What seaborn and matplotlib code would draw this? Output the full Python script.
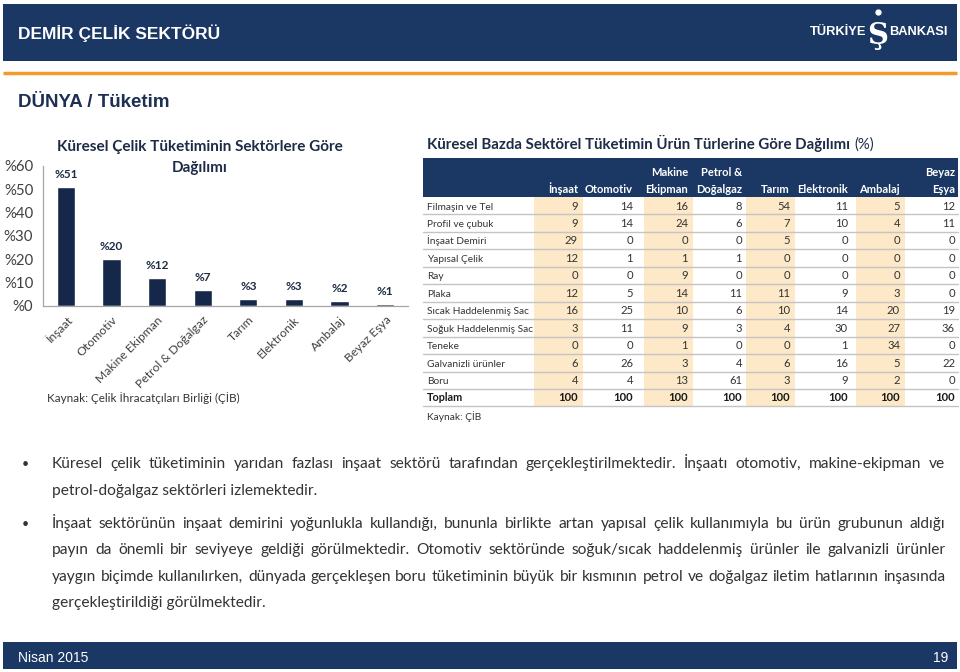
import matplotlib
matplotlib.use("Agg")
import matplotlib.pyplot as plt
from matplotlib import font_manager
from matplotlib.patches import Rectangle
from matplotlib.ticker import FuncFormatter, FixedLocator
import seaborn as sns

# ---------------- data ----------------
sectors = ["İnşaat", "Otomotiv", "Makine Ekipman", "Petrol & Doğalgaz",
           "Tarım", "Elektronik", "Ambalaj", "Beyaz Eşya"]
shares = [51, 20, 12, 7, 3, 3, 2, 1]
y_ticks = [0, 10, 20, 30, 40, 50, 60]

products = ["Filmaşin ve Tel", "Profil ve çubuk", "İnşaat Demiri", "Yapısal Çelik",
            "Ray", "Plaka", "Sıcak Haddelenmiş Sac", "Soğuk Haddelenmiş Sac",
            "Teneke", "Galvanizli ürünler", "Boru"]
col_top = ["", "", "Makine", "Petrol &", "", "", "", "Beyaz"]
col_bottom = ["İnşaat", "Otomotiv", "Ekipman", "Doğalgaz", "Tarım",
              "Elektronik", "Ambalaj", "Eşya"]
val_insaat = [9, 9, 29, 12, 0, 12, 16, 3, 0, 6, 4]
val_otomotiv = [14, 14, 0, 1, 0, 5, 25, 11, 0, 26, 4]
val_makine = [16, 24, 0, 1, 9, 14, 10, 9, 1, 3, 13]
val_petrol = [8, 6, 0, 1, 0, 11, 6, 3, 0, 4, 61]
val_tarim = [54, 7, 5, 0, 0, 11, 10, 4, 0, 6, 3]
val_elektronik = [11, 10, 0, 0, 0, 9, 14, 30, 1, 16, 9]
val_ambalaj = [5, 4, 0, 0, 0, 3, 20, 27, 34, 5, 2]
val_beyaz = [12, 11, 0, 0, 0, 0, 19, 36, 0, 22, 0]
totals = [100, 100, 100, 100, 100, 100, 100, 100]
table_cols = [val_insaat, val_otomotiv, val_makine, val_petrol,
              val_tarim, val_elektronik, val_ambalaj, val_beyaz]
shaded_cols = [0, 2, 4, 6]

para1 = ["Küresel çelik tüketiminin yarıdan fazlası inşaat sektörü tarafından gerçekleştirilmektedir. İnşaatı otomotiv, makine-ekipman ve",
         "petrol-doğalgaz sektörleri izlemektedir."]
para2 = ["İnşaat sektörünün inşaat demirini yoğunlukla kullandığı, bununla birlikte artan yapısal çelik kullanımıyla bu ürün grubunun aldığı",
         "payın da önemli bir seviyeye geldiği görülmektedir. Otomotiv sektöründe soğuk/sıcak haddelenmiş ürünler ile galvanizli ürünler",
         "yaygın biçimde kullanılırken, dünyada gerçekleşen boru tüketiminin büyük bir kısmının petrol ve doğalgaz iletim hatlarının inşasında",
         "gerçekleştirildiği görülmektedir."]

# ---------------- style ----------------
sns.set_theme(style="white")
names = {f.name for f in font_manager.fontManager.ttflist}
BODY = "Lato" if "Lato" in names else "DejaVu Sans"
SANS = "Liberation Sans" if "Liberation Sans" in names else "DejaVu Sans"
plt.rcParams["font.family"] = [BODY, "DejaVu Sans"]

NAVY = "#1b3763"
BAR = "#15284a"
ORANGE = "#f29a2e"
SHADE = "#fde8c8"
TXT = "#333333"

fig = plt.figure(figsize=(9.6, 6.72), dpi=100)
bg = fig.add_axes([0, 0, 1, 1])
bg.set_xlim(0, 960)
bg.set_ylim(672, 0)
bg.axis("off")
bg.set_zorder(0)

# header
bg.add_patch(Rectangle((3, 4), 954, 57, color=NAVY, lw=0))
bg.text(18, 39, "DEMİR ÇELİK SEKTÖRÜ", color="white", fontsize=12.5, fontweight="bold",
        family=[SANS, "DejaVu Sans"], va="baseline", ha="left")
bg.text(866, 35, "TÜRKİYE", color="white", fontsize=9.3, fontweight="bold",
        family=[SANS, "DejaVu Sans"], va="baseline", ha="right")
bg.text(878, 35, "Ş", color="white", fontsize=21, fontweight="bold",
        family=["DejaVu Serif", "DejaVu Sans"], va="center", ha="center")
bg.plot([878], [12], marker="o", ms=3.5, color="white")
bg.text(889, 35, "BANKASI", color="white", fontsize=9.3, fontweight="bold",
        family=[SANS, "DejaVu Sans"], va="baseline", ha="left")
bg.plot([3, 957], [72.5, 72.5], color=ORANGE, lw=2.5, solid_capstyle="butt")
bg.text(18, 107, "DÜNYA / Tüketim", color="#1d2f52", fontsize=13.5, fontweight="bold",
        family=[SANS, "DejaVu Sans"], va="baseline", ha="left")

# footer
bg.add_patch(Rectangle((3, 642), 954, 27, color=NAVY, lw=0))
bg.text(18, 662, "Nisan 2015", color="white", fontsize=10, family=[SANS, "DejaVu Sans"],
        va="baseline", ha="left")
bg.text(948, 662, "19", color="white", fontsize=10, family=[SANS, "DejaVu Sans"],
        va="baseline", ha="right")

# ---------------- bar chart ----------------
ax = fig.add_axes([43 / 960, 1 - 306 / 672, (408 - 43) / 960, (306 - 166) / 672])
sns.barplot(x=sectors, y=shares, ax=ax, color=BAR, saturation=1, width=0.4)
ax.set_xlim(-0.5, len(sectors) - 0.5)
ax.set_ylim(0, 60)
ax.set_yticks(y_ticks)
ax.yaxis.set_major_formatter(FuncFormatter(lambda v, p: f"%{int(v)}"))
ax.set_xlabel("")
ax.set_ylabel("")
ax.patch.set_alpha(0)
for s in ["top", "right"]:
    ax.spines[s].set_visible(False)
for s in ["left", "bottom"]:
    ax.spines[s].set_color("#a6a6a6")
    ax.spines[s].set_linewidth(0.9)
ax.tick_params(axis="y", length=4, width=0.8, color="#a6a6a6", direction="out",
               labelsize=10.8, labelcolor="#404040", pad=3)
ax.tick_params(axis="x", which="major", length=0, labelsize=8.7, labelcolor="#404040", pad=6)
ax.xaxis.set_minor_locator(FixedLocator([i - 0.5 for i in range(len(sectors) + 1)]))
ax.tick_params(axis="x", which="minor", length=4, width=0.8, color="#a6a6a6", direction="out")
plt.setp(ax.get_xticklabels(), rotation=45, ha="right", rotation_mode="anchor")
ax.bar_label(ax.containers[0], labels=[f"%{v}" for v in shares], padding=5,
             fontsize=8.5, fontweight="bold", color="#1d2b45")

bg.text(200, 151, "Küresel Çelik Tüketiminin Sektörlere Göre", fontsize=11, fontweight="bold",
        color="#1d2b45", ha="center", va="baseline")
bg.text(200, 172, "Dağılımı", fontsize=11, fontweight="bold",
        color="#1d2b45", ha="center", va="baseline")
bg.text(47, 401.5, "Kaynak: Çelik İhracatçıları Birliği (ÇİB)", fontsize=8.4, color=TXT,
        ha="left", va="baseline")

# ---------------- table ----------------
renderer = fig.canvas.get_renderer()
t = bg.text(427, 149, "Küresel Bazda Sektörel Tüketimin Ürün Türlerine Göre Dağılımı",
            fontsize=10.8, fontweight="bold", color="#1d2b45", ha="left", va="baseline")
w = t.get_window_extent(renderer).width
bg.text(427 + w + 4, 149, "(%)", fontsize=10.8, color="#1d2b45", ha="left", va="baseline")

col_right = [578, 633, 688, 742, 790, 848, 900, 955]
head_top, head_bot = 158, 197
row_h = 17.45
n_rows = len(products) + 1
tab_bottom = head_bot + n_rows * row_h
BL = 3.8  # baseline offset from row centre

bg.add_patch(Rectangle((423, head_top), 958 - 423, head_bot - head_top, color=NAVY, lw=0))
for ci in shaded_cols:
    xr = col_right[ci]
    bg.add_patch(Rectangle((xr - 44, head_bot), 49, tab_bottom - head_bot, color=SHADE, lw=0))
for k in range(1, n_rows + 1):
    yb = head_bot + k * row_h
    bg.plot([423, 958], [yb, yb], color="#c4c4c4", lw=1.0)

for ci in range(len(col_bottom)):
    xr = col_right[ci]
    if col_top[ci]:
        bg.text(xr, 172 + BL, col_top[ci], color="white", fontsize=8, fontweight="bold",
                ha="right", va="baseline")
    bg.text(xr, 189 + BL, col_bottom[ci], color="white", fontsize=8, fontweight="bold",
            ha="right", va="baseline")

for ri, prod in enumerate(products):
    yc = head_bot + (ri + 0.5) * row_h + BL
    bg.text(427, yc, prod, fontsize=7.3, color=TXT, ha="left", va="baseline")
    for ci, col in enumerate(table_cols):
        bg.text(col_right[ci], yc, str(col[ri]), fontsize=8.1, color=TXT,
                ha="right", va="baseline")
yc = head_bot + (len(products) + 0.5) * row_h + BL
bg.text(427, yc, "Toplam", fontsize=7.8, fontweight="bold", color="#1a1a1a", ha="left", va="baseline")
for ci, v in enumerate(totals):
    bg.text(col_right[ci], yc, str(v), fontsize=8.1, fontweight="bold", color="#1a1a1a",
            ha="right", va="baseline")
bg.text(427, 416 + BL, "Kaynak: ÇİB", fontsize=7.3, color=TXT, ha="left", va="baseline")


# ---------------- bullets ----------------
def draw_line(line, y, justify, x0=52, x1=945, size=11.2):
    kw = dict(fontsize=size, color=TXT, va="baseline", ha="left",
              family=[BODY, "DejaVu Sans"])
    yb = y + 5
    if not justify:
        bg.text(x0, yb, line, **kw)
        return
    words = line.split(" ")
    texts = [bg.text(0, yb, wd, **kw) for wd in words]
    widths = [tx.get_window_extent(renderer).width for tx in texts]
    gap = (x1 - x0 - sum(widths)) / (len(words) - 1)
    x = x0
    for tx, wd in zip(texts, widths):
        tx.set_x(x)
        x += wd + gap


ys1 = [463, 490]
ys2 = [523, 549, 576, 602]
for i, (line, y) in enumerate(zip(para1, ys1)):
    draw_line(line, y, i < len(para1) - 1)
for i, (line, y) in enumerate(zip(para2, ys2)):
    draw_line(line, y, i < len(para2) - 1)
bg.text(25, 464, "•", fontsize=9, color=TXT, ha="center", va="center")
bg.text(25, 524, "•", fontsize=9, color=TXT, ha="center", va="center")

fig.savefig("out.png", dpi=100)
